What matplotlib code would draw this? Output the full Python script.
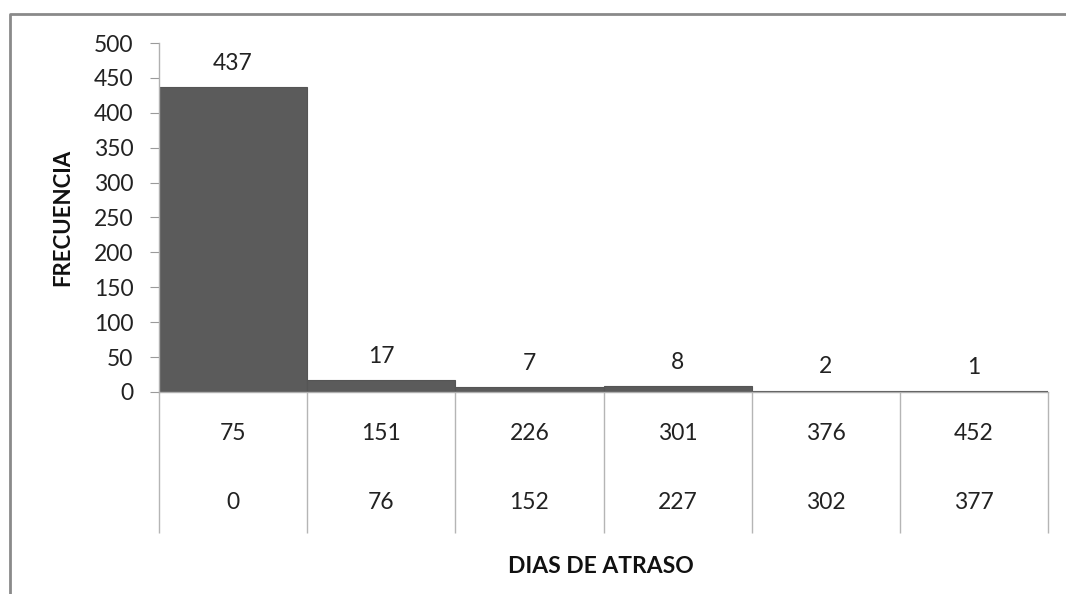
import matplotlib
matplotlib.use("Agg")
import matplotlib.pyplot as plt
from matplotlib.lines import Line2D
import matplotlib.transforms as mtransforms

plt.rcParams['font.family'] = ['Lato', 'DejaVu Sans']

# frecuencia de dias de atraso por intervalo
limite_sup = ["75", "151", "226", "301", "376", "452"]
limite_inf = ["0", "76", "152", "227", "302", "377"]
frecuencia = [437, 17, 7, 8, 2, 1]

fs = 16.5

fig = plt.figure(figsize=(10.66, 5.94), dpi=100)
ax = fig.add_axes([159/1066, 1-392/594, (1048-159)/1066, 349/594])

x = range(len(frecuencia))
ax.bar(x, frecuencia, width=1.0, color='#5b5b5b', edgecolor='#555555', linewidth=0.8, zorder=2)
ax.set_xlim(-0.5, len(frecuencia)-0.5)
ax.set_ylim(0, 500)
ax.set_yticks(range(0, 501, 50))
ax.tick_params(axis='y', direction='out', length=6.5, color='#9a9a9a', labelsize=fs, pad=12, labelcolor='#222222')
ax.set_xticks([])

for s in ['top', 'right']:
    ax.spines[s].set_visible(False)
for s in ['left', 'bottom']:
    ax.spines[s].set_color('#b0b0b0')
    ax.spines[s].set_linewidth(1.0)

for i, v in enumerate(frecuencia):
    ax.annotate(str(v), (i, v), xytext=(0, 17), textcoords='offset points',
                ha='center', va='center', fontsize=fs, color='#222222')

trans = mtransforms.blended_transform_factory(ax.transData, ax.transAxes)
bordes = [i - 0.5 for i in range(len(frecuencia)+1)]
ax.vlines(bordes, -0.404, 0, transform=trans, color='#b5b5b5', linewidth=1.0, clip_on=False)
for i in x:
    ax.text(i, -0.1175, limite_sup[i], transform=trans, ha='center', va='center', fontsize=fs, color='#222222')
    ax.text(i, -0.318, limite_inf[i], transform=trans, ha='center', va='center', fontsize=fs, color='#222222')

ax.text(0.4975, -0.4986, "DIAS DE ATRASO", transform=ax.transAxes, ha='center', va='center',
        fontsize=16.5, fontweight='bold', color='#111111')
ax.set_ylabel("FRECUENCIA", fontsize=16, fontweight='bold', color='#111111', labelpad=15)

# marco del grafico
fig.add_artist(Line2D([10/1066, 10/1066, 1.0], [0.0, 1-14/594, 1-14/594],
                      transform=fig.transFigure, color='#8a8a8a', linewidth=2.0))

fig.savefig("out.png", dpi=100)
